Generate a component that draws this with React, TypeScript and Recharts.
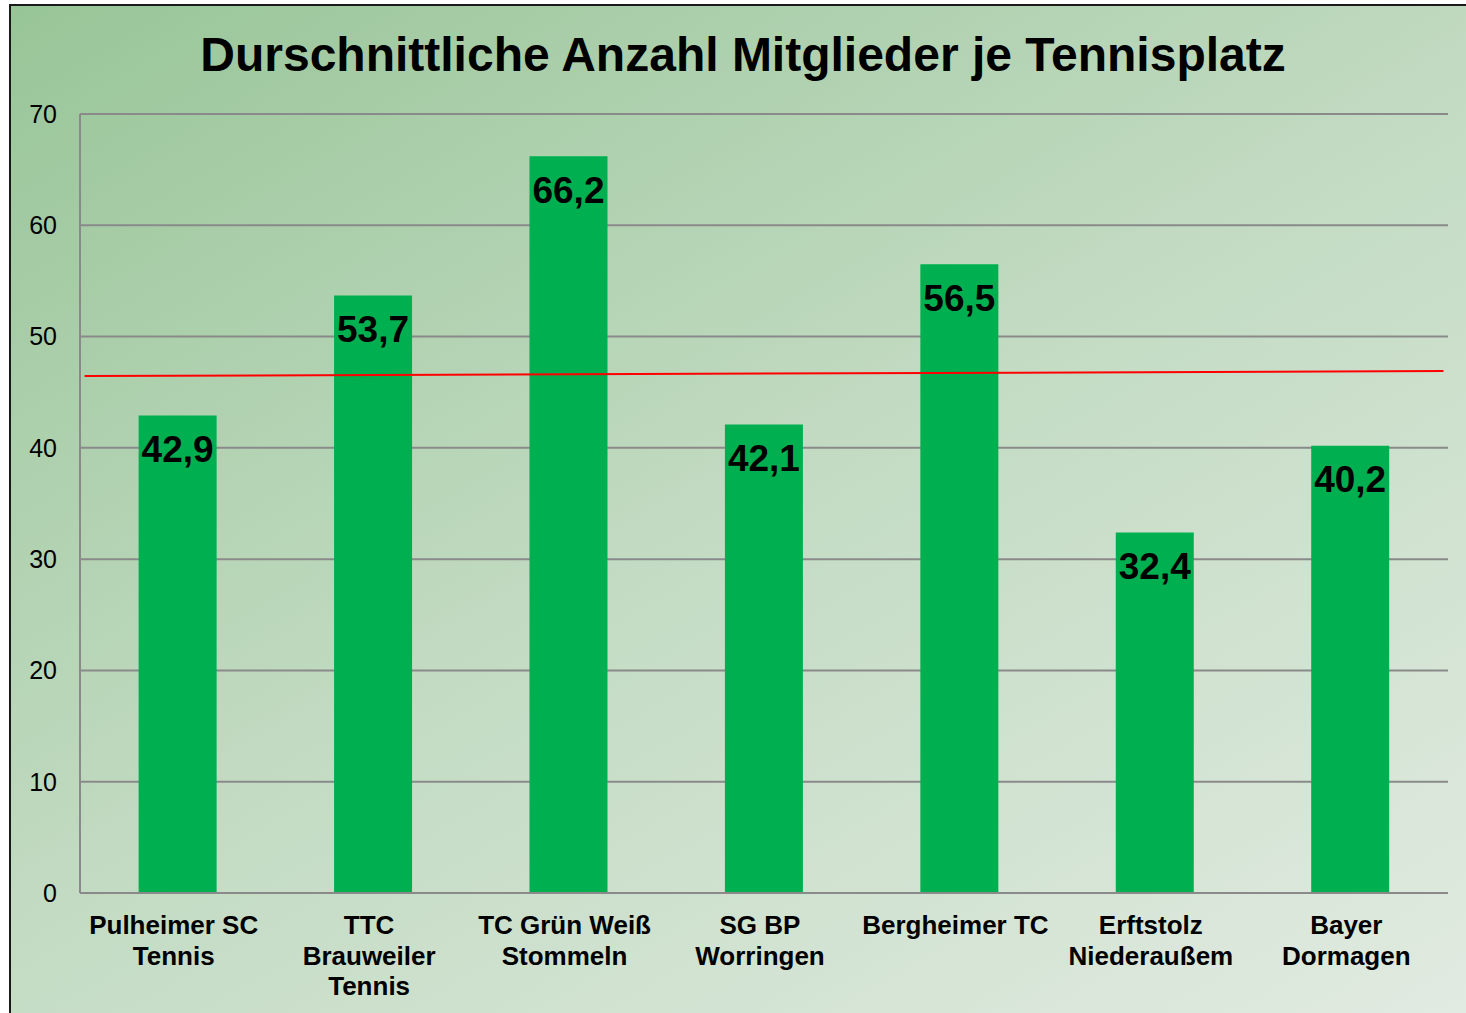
import React from "react";
import {
  BarChart,
  Bar,
  XAxis,
  YAxis,
  CartesianGrid,
  LabelList,
  ReferenceLine,
} from "recharts";

const clubs = [
  "Pulheimer SC\nTennis",
  "TTC\nBrauweiler\nTennis",
  "TC Grün Weiß\nStommeln",
  "SG BP\nWorringen",
  "Bergheimer TC",
  "Erftstolz\nNiederaußem",
  "Bayer\nDormagen",
];
const membersPerCourt = [42.9, 53.7, 66.2, 42.1, 56.5, 32.4, 40.2];
const yTicks = [0, 10, 20, 30, 40, 50, 60, 70];
// red reference line, slightly tilted in the original (x in bar-index units 0..6)
const avgLineX = [0.02, 5.98];
const avgLineY = [46.45, 46.9];

const FONT = "'Liberation Sans', Arial, sans-serif";

const data = clubs.map((club, i) => ({ club, value: membersPerCourt[i] }));

function ClubTick(props: any) {
  const { x, y, payload } = props;
  const lines = String(payload.value).split("\n");
  const cx = x - 4;
  return (
    <text
      x={cx}
      y={y + 33}
      textAnchor="middle"
      fontFamily={FONT}
      fontWeight="bold"
      fontSize={26}
      fill="#000"
    >
      {lines.map((l, i) => (
        <tspan key={i} x={cx} dy={i === 0 ? 0 : 30.5}>
          {l}
        </tspan>
      ))}
    </text>
  );
}

function ValueLabel(props: any) {
  const { x, y, width, value } = props;
  return (
    <text
      x={x + width / 2}
      y={y + 34}
      textAnchor="middle"
      dominantBaseline="central"
      fontFamily={FONT}
      fontWeight="bold"
      fontSize={37}
      fill="#000"
    >
      {String(value).replace(".", ",")}
    </text>
  );
}

export default function App() {
  return (
    <div
      style={{
        position: "absolute",
        left: 0,
        top: 0,
        width: 1466,
        height: 1013,
        overflow: "hidden",
        background: "#fff",
      }}
    >
      <div
        style={{
          position: "absolute",
          left: 9,
          top: 4,
          width: 1470,
          height: 1020,
          borderLeft: "2px solid #1a1a1a",
          borderTop: "2px solid #1a1a1a",
          background: "linear-gradient(150deg, #98c598 0%, #c3dbc3 50%, #e2ebe2 100%)",
        }}
      />
      <div
        style={{
          position: "absolute",
          left: 0,
          top: 25,
          width: 1486,
          textAlign: "center",
          fontFamily: FONT,
          fontWeight: "bold",
          fontSize: 48,
          lineHeight: "60px",
          color: "#000",
        }}
      >
        Durschnittliche Anzahl Mitglieder je Tennisplatz
      </div>
      <div style={{ position: "absolute", left: 0, top: 0 }}>
        <BarChart
          width={1466}
          height={1013}
          data={data}
          margin={{ top: 114, right: 18, bottom: 0, left: 10 }}
          barCategoryGap="30%"
        >
          <CartesianGrid vertical={false} stroke="#8a8a8a" strokeWidth={2} />
          <XAxis
            dataKey="club"
            interval={0}
            tick={<ClubTick />}
            tickLine={false}
            axisLine={{ stroke: "#8a8a8a", strokeWidth: 2 }}
            height={120}
          />
          <XAxis
            xAxisId="line"
            type="number"
            domain={[0, clubs.length - 1]}
            allowDataOverflow
            height={0}
            hide
          />
          <YAxis
            domain={[0, 70]}
            ticks={yTicks}
            width={70}
            tickLine={false}
            axisLine={{ stroke: "#8a8a8a", strokeWidth: 2 }}
            tick={{ fill: "#000", fontSize: 25, fontFamily: FONT }}
            tickMargin={17}
          />
          <Bar dataKey="value" fill="#00b050" isAnimationActive={false}>
            <LabelList dataKey="value" content={<ValueLabel />} />
          </Bar>
          <ReferenceLine
            xAxisId="line"
            segment={[
              { x: avgLineX[0], y: avgLineY[0] },
              { x: avgLineX[1], y: avgLineY[1] },
            ]}
            stroke="#ff0000"
            strokeWidth={2}
            ifOverflow="visible"
          />
        </BarChart>
      </div>
    </div>
  );
}
